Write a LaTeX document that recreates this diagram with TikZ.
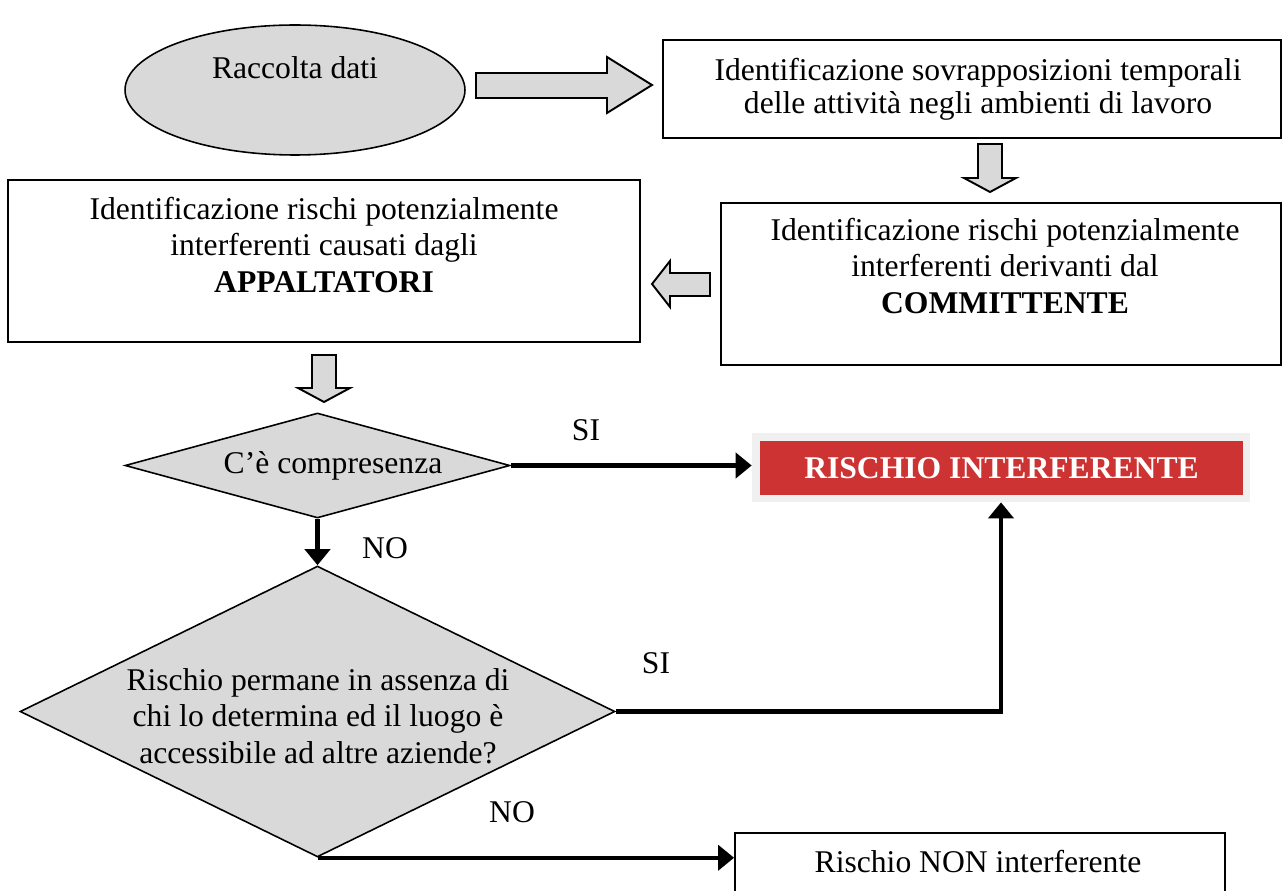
\documentclass[tikz,border=0pt]{standalone}
\usepackage{fontspec}
\setmainfont{Liberation Serif}
\usetikzlibrary{shapes.geometric}
\usetikzlibrary{arrows.meta}
\definecolor{boxgray}{RGB}{217,217,217}
\definecolor{riskred}{RGB}{205,51,51}
\definecolor{framegray}{RGB}{240,240,240}

\begin{document}
\begin{tikzpicture}[x=0.02cm, y=-0.02cm,
    font=\fontsize{18}{20.8}\selectfont,
    box/.style={draw, line width=1.1pt, inner sep=0pt},
    txt/.style={align=center, inner sep=0pt},
    decision/.style={diamond, draw, fill=boxgray, line width=0.9pt, inner sep=0pt},
    blockarrow/.style={draw, fill=boxgray, line width=1.1pt, line join=miter},
    conn/.style={line width=2.5pt, -{Triangle[length=0.32cm, width=0.5cm]}}]
    \clip (0,0) rectangle (1283,891);

    % raccolta dati
    \node[ellipse, draw, fill=boxgray, line width=0.9pt, minimum width=6.8cm,
      minimum height=2.6cm] (dati) at (295,90) {};
    \node[txt] (datitxt) at (295,68) {Raccolta dati};

    % riquadri
    \node[box, minimum width=12.36cm, minimum height=1.96cm] (sovr) at (972,89) {};
    \node[txt, font=\fontsize{18}{19}\selectfont] (sovrtxt) at (978,89)
      {Identificazione sovrapposizioni temporali\\delle attività negli ambienti di lavoro};

    \node[box, minimum width=11.2cm, minimum height=3.24cm] (comm) at (1001,284) {};
    \node[txt] (commtxt) at (1005,266)
      {Identificazione rischi potenzialmente\\interferenti derivanti dal\\\textbf{COMMITTENTE}};

    \node[box, minimum width=12.64cm, minimum height=3.24cm] (app) at (324,261) {};
    \node[txt] (apptxt) at (324,245)
      {Identificazione rischi potenzialmente\\interferenti causati dagli\\\textbf{APPALTATORI}};

    % frecce piene
    \draw[blockarrow] (476,73) -- (607,73) -- (607,57) -- (652,85) -- (607,113)
      -- (607,98) -- (476,98) -- cycle;
    \draw[blockarrow] (978,144) -- (1002,144) -- (1002,178) -- (1016,178) -- (990,192)
      -- (964,178) -- (978,178) -- cycle;
    \draw[blockarrow] (710,273) -- (670,273) -- (670,261) -- (652,284) -- (670,307)
      -- (670,296) -- (710,296) -- cycle;
    \draw[blockarrow] (312,355) -- (336,355) -- (336,388) -- (350,388) -- (324,402)
      -- (298,388) -- (312,388) -- cycle;

    % decisioni
    \node[decision, minimum width=7.7cm, minimum height=2.1cm] (comp) at (317.5,465.5) {};
    \node[txt] (comptxt) at (333,466) {C’è compresenza};

    \node[decision, minimum width=11.9cm, minimum height=5.82cm] (perm) at (317.5,711.5) {};
    \node[txt] (permtxt) at (318,716)
      {Rischio permane in assenza di\\chi lo determina ed il luogo è\\accessibile ad altre aziende?};

    % esiti
    \node[fill=framegray, minimum width=9.96cm, minimum height=1.38cm, inner sep=0pt]
      (risk) at (1001,467.5) {};
    \node[fill=riskred, minimum width=9.66cm, minimum height=1.08cm, inner sep=0pt,
      text=white, font=\fontsize{18}{20}\selectfont\bfseries] (risktxt) at (1001.5,468)
      {RISCHIO INTERFERENTE};

    \node[box, minimum width=9.8cm, minimum height=1.6cm] (nonrisk) at (980,873) {};
    \node[txt] (nonrisktxt) at (978,862) {Rischio NON interferente};

    % collegamenti
    \draw[conn] (comp.east) -- (comp.east -| risk.west);
    \draw[conn] (comp.south) -- (perm.north);
    \draw[conn] (perm.east) -| (risk.south);
    \draw[conn] (perm.south) -- (perm.south -| nonrisk.west);

    \node[txt] (si1) at (586,430) {SI};
    \node[txt] (no1) at (385,548) {NO};
    \node[txt] (si2) at (656,663) {SI};
    \node[txt] (no2) at (512,812) {NO};
\end{tikzpicture}
\end{document}
